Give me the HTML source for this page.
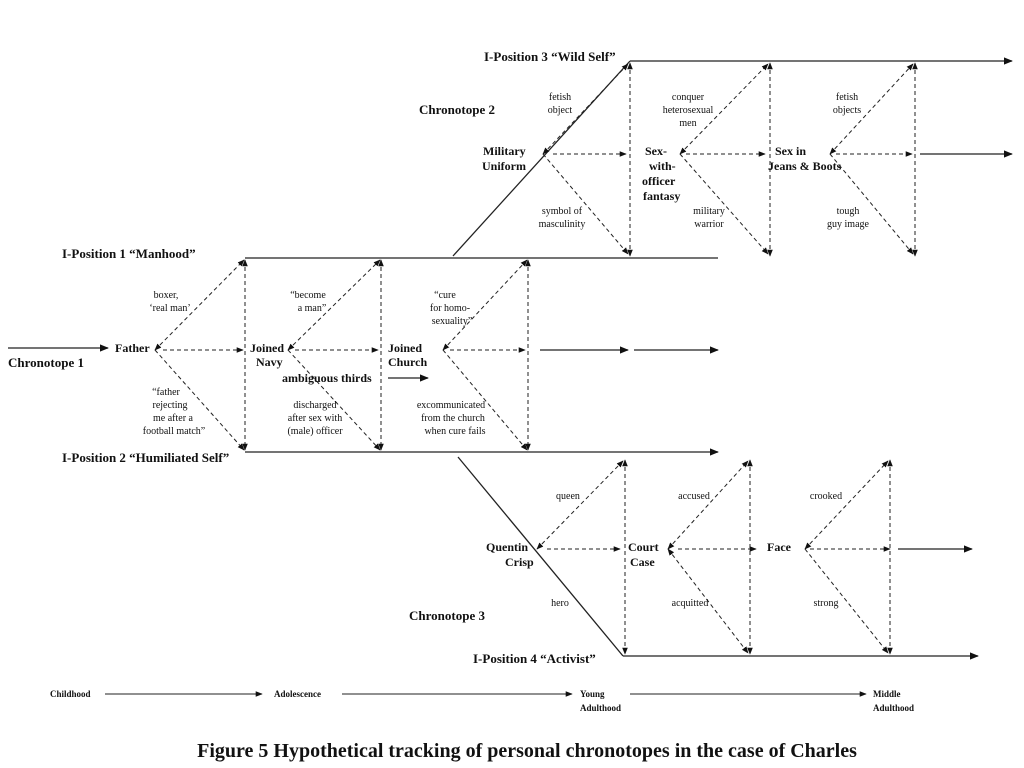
<!DOCTYPE html>
<html><head><meta charset="utf-8"><style>
html,body{margin:0;padding:0;background:#fff;}
svg{display:block;}
text{font-family:"Liberation Serif",serif;fill:#111;}
.b{font-weight:bold;font-size:12px;}
.p{font-weight:bold;font-size:13px;}
.n{font-size:10px;}
.l{stroke:#222;stroke-width:1.3;fill:none;}
.d{stroke:#222;stroke-width:1;stroke-dasharray:4,3;fill:none;}
</style></head><body>
<svg width="1024" height="768" viewBox="0 0 1024 768" xmlns="http://www.w3.org/2000/svg">
<defs>
<marker id="a" viewBox="0 0 10 10" refX="9" refY="5" markerWidth="7" markerHeight="7" orient="auto-start-reverse"><path d="M0,1 L10,5 L0,9 z" fill="#111"/></marker>
</defs>

<!-- Chronotope 1 -->
<line class="l" x1="8" y1="348" x2="108" y2="348" marker-end="url(#a)"/>
<line class="l" x1="245" y1="258" x2="718" y2="258"/>
<line class="l" x1="245" y1="452" x2="718" y2="452" marker-end="url(#a)"/>
<g class="d">
<line x1="245" y1="260" x2="245" y2="450" marker-start="url(#a)" marker-end="url(#a)"/>
<line x1="381" y1="260" x2="381" y2="450" marker-start="url(#a)" marker-end="url(#a)"/>
<line x1="528" y1="260" x2="528" y2="450" marker-start="url(#a)" marker-end="url(#a)"/>
<line x1="155" y1="350" x2="244" y2="260" marker-start="url(#a)" marker-end="url(#a)"/>
<line x1="155" y1="350" x2="244" y2="450" marker-end="url(#a)"/>
<line x1="163" y1="350" x2="243" y2="350" marker-end="url(#a)"/>
<line x1="288" y1="350" x2="380" y2="260" marker-start="url(#a)" marker-end="url(#a)"/>
<line x1="288" y1="350" x2="380" y2="450" marker-end="url(#a)"/>
<line x1="295" y1="350" x2="378" y2="350" marker-end="url(#a)"/>
<line x1="443" y1="350" x2="527" y2="260" marker-start="url(#a)" marker-end="url(#a)"/>
<line x1="443" y1="350" x2="527" y2="450" marker-end="url(#a)"/>
<line x1="450" y1="350" x2="525" y2="350" marker-end="url(#a)"/>
</g>
<line class="l" x1="540" y1="350" x2="628" y2="350" marker-end="url(#a)"/>
<line class="l" x1="634" y1="350" x2="718" y2="350" marker-end="url(#a)"/>
<line class="l" x1="388" y1="378" x2="428" y2="378" marker-end="url(#a)"/>

<text class="p" x="62" y="258">I-Position 1 “Manhood”</text>
<text class="p" x="62" y="462">I-Position 2 “Humiliated  Self”</text>
<text class="p" x="8" y="367">Chronotope 1</text>
<text class="b" x="115" y="352">Father</text>
<text class="b" x="250" y="352">Joined</text>
<text class="b" x="256" y="366">Navy</text>
<text class="b" x="388" y="352">Joined</text>
<text class="b" x="388" y="366">Church</text>
<text class="b" x="282" y="382">ambiguous thirds</text>
<g class="n" text-anchor="middle">
<text x="166" y="298">boxer,</text><text x="170" y="311">‘real man’</text>
<text x="166" y="395">“father</text><text x="170" y="408">rejecting</text><text x="173" y="421">me after a</text><text x="174" y="434">football match”</text>
<text x="308" y="298">“become</text><text x="312" y="311">a man”</text>
<text x="315" y="408">discharged</text><text x="315" y="421">after sex with</text><text x="315" y="434">(male) officer</text>
<text x="445" y="298">“cure</text><text x="450" y="311">for homo-</text><text x="452" y="324">sexuality”</text>
<text x="451" y="408">excommunicated</text><text x="453" y="421">from the church</text><text x="455" y="434">when cure fails</text>
</g>

<!-- Chronotope 2 -->
<line class="l" x1="453" y1="256" x2="630" y2="61"/>
<line class="l" x1="630" y1="61" x2="1012" y2="61" marker-end="url(#a)"/>
<line class="l" x1="920" y1="154" x2="1012" y2="154" marker-end="url(#a)"/>
<g class="d">
<line x1="630" y1="63" x2="630" y2="256" marker-start="url(#a)" marker-end="url(#a)"/>
<line x1="770" y1="63" x2="770" y2="256" marker-start="url(#a)" marker-end="url(#a)"/>
<line x1="915" y1="63" x2="915" y2="256" marker-start="url(#a)" marker-end="url(#a)"/>
<line x1="543" y1="154" x2="628" y2="64" marker-start="url(#a)" marker-end="url(#a)"/>
<line x1="543" y1="154" x2="628" y2="254" marker-end="url(#a)"/>
<line x1="553" y1="154" x2="626" y2="154" marker-end="url(#a)"/>
<line x1="680" y1="154" x2="768" y2="64" marker-start="url(#a)" marker-end="url(#a)"/>
<line x1="680" y1="154" x2="768" y2="254" marker-end="url(#a)"/>
<line x1="686" y1="154" x2="765" y2="154" marker-end="url(#a)"/>
<line x1="830" y1="154" x2="913" y2="64" marker-start="url(#a)" marker-end="url(#a)"/>
<line x1="830" y1="154" x2="913" y2="254" marker-end="url(#a)"/>
<line x1="836" y1="154" x2="912" y2="154" marker-end="url(#a)"/>
</g>
<text class="p" x="484" y="61">I-Position 3  “Wild Self”</text>
<text class="p" x="419" y="114">Chronotope 2</text>
<text class="b" x="483" y="155">Military</text>
<text class="b" x="482" y="170">Uniform</text>
<text class="b" x="645" y="155">Sex-</text>
<text class="b" x="649" y="170">with-</text>
<text class="b" x="642" y="185">officer</text>
<text class="b" x="643" y="200">fantasy</text>
<text class="b" x="775" y="155">Sex in</text>
<text class="b" x="768" y="170">Jeans &amp; Boots</text>
<g class="n" text-anchor="middle">
<text x="560" y="100">fetish</text><text x="560" y="113">object</text>
<text x="562" y="214">symbol of</text><text x="562" y="227">masculinity</text>
<text x="688" y="100">conquer</text><text x="688" y="113">heterosexual</text><text x="688" y="126">men</text>
<text x="709" y="214">military</text><text x="709" y="227">warrior</text>
<text x="847" y="100">fetish</text><text x="847" y="113">objects</text>
<text x="848" y="214">tough</text><text x="848" y="227">guy image</text>
</g>

<!-- Chronotope 3 -->
<line class="l" x1="458" y1="457" x2="623" y2="656"/>
<line class="l" x1="623" y1="656" x2="978" y2="656" marker-end="url(#a)"/>
<line class="l" x1="898" y1="549" x2="972" y2="549" marker-end="url(#a)"/>
<g class="d">
<line x1="625" y1="460" x2="625" y2="654" marker-start="url(#a)" marker-end="url(#a)"/>
<line x1="750" y1="460" x2="750" y2="654" marker-start="url(#a)" marker-end="url(#a)"/>
<line x1="890" y1="460" x2="890" y2="654" marker-start="url(#a)" marker-end="url(#a)"/>
<line x1="537" y1="549" x2="623" y2="461" marker-start="url(#a)" marker-end="url(#a)"/>
<line x1="547" y1="549" x2="620" y2="549" marker-end="url(#a)"/>
<line x1="668" y1="549" x2="748" y2="461" marker-start="url(#a)" marker-end="url(#a)"/>
<line x1="668" y1="549" x2="748" y2="653" marker-start="url(#a)" marker-end="url(#a)"/>
<line x1="678" y1="549" x2="756" y2="549" marker-end="url(#a)"/>
<line x1="805" y1="549" x2="888" y2="461" marker-start="url(#a)" marker-end="url(#a)"/>
<line x1="805" y1="549" x2="888" y2="653" marker-end="url(#a)"/>
<line x1="810" y1="549" x2="890" y2="549" marker-end="url(#a)"/>
</g>
<text class="b" x="486" y="551">Quentin</text>
<text class="b" x="505" y="566">Crisp</text>
<text class="b" x="628" y="551">Court</text>
<text class="b" x="630" y="566">Case</text>
<text class="b" x="767" y="551">Face</text>
<text class="p" x="409" y="620">Chronotope 3</text>
<text class="p" x="473" y="663">I-Position 4   “Activist”</text>
<g class="n" text-anchor="middle">
<text x="568" y="499">queen</text>
<text x="560" y="606">hero</text>
<text x="694" y="499">accused</text>
<text x="690" y="606">acquitted</text>
<text x="826" y="499">crooked</text>
<text x="826" y="606">strong</text>
</g>

<!-- timeline -->
<g style="font-size:9px;font-weight:bold">
<text x="50" y="697">Childhood</text>
<text x="274" y="697">Adolescence</text>
<text x="580" y="697">Young</text><text x="580" y="711">Adulthood</text>
<text x="873" y="697">Middle</text><text x="873" y="711">Adulthood</text>
</g>
<line class="l" style="stroke-width:1" x1="105" y1="694" x2="262" y2="694" marker-end="url(#a)"/>
<line class="l" style="stroke-width:1" x1="342" y1="694" x2="572" y2="694" marker-end="url(#a)"/>
<line class="l" style="stroke-width:1" x1="630" y1="694" x2="866" y2="694" marker-end="url(#a)"/>

<text x="527" y="757" text-anchor="middle" style="font-size:20px;font-weight:bold">Figure 5   Hypothetical tracking of personal chronotopes in the case of Charles</text>
</svg>
</body></html>
